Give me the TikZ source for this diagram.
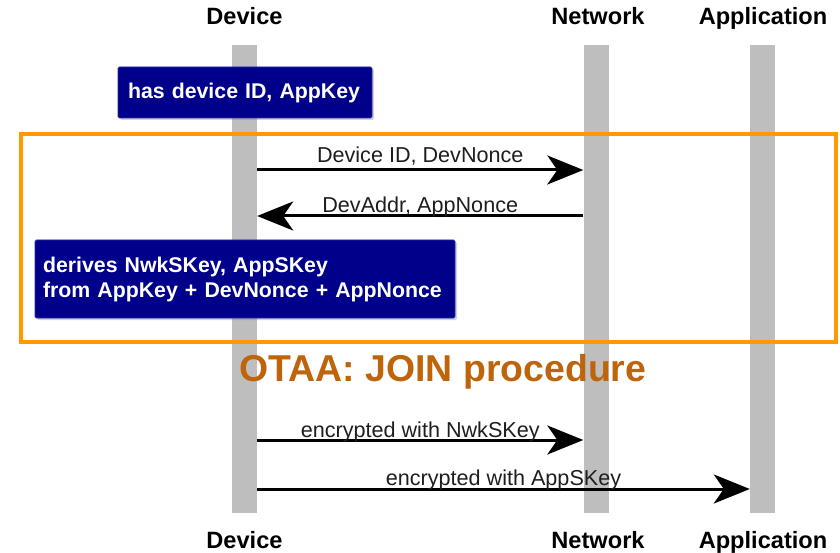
\documentclass[tikz,border=0pt]{standalone}
\usepackage{fontspec}
\setmainfont{Liberation Sans}
\usetikzlibrary{arrows.meta,shadows}
\definecolor{lifegray}{RGB}{190,190,190}
\definecolor{boxblue}{RGB}{0,0,138}
\definecolor{otaaorange}{RGB}{255,153,0}
\definecolor{otaatext}{RGB}{190,100,10}
\definecolor{msgtext}{RGB}{30,30,30}
\tikzset{
  lifebar/.style={fill=lifegray, draw=none, minimum width=25pt, inner sep=0pt},
  header/.style={font=\fontsize{23.6}{27}\selectfont\bfseries, text=black, inner sep=0pt, anchor=base},
  notebox/.style={fill=boxblue, draw={rgb,255:red,40;green,40;blue,170}, line width=0.8pt, text=white,
    font=\fontsize{21.3}{25}\selectfont\bfseries, align=left, inner sep=0pt, rounded corners=1.5pt,
    drop shadow={shadow xshift=2pt, shadow yshift=-2pt, opacity=0.35}},
  msg/.style={line width=3pt, draw=black, -{Stealth[length=36pt,width=29pt,inset=10pt]}},
  msglabel/.style={font=\fontsize{21.6}{24}\selectfont, text=msgtext, inner sep=0pt},
}
\begin{document}
\begin{tikzpicture}[x=1pt,y=-1pt]
\useasboundingbox (0,0) rectangle (840,553);
% lifelines
\node[lifebar, minimum height=468pt] (dev) at (244.5,279) {};
\node[lifebar, minimum height=468pt] (net) at (596,279) {};
\node[lifebar, minimum height=468pt] (app) at (762.5,279) {};
% headers
\node[header] (hdev) at (244.5,25) {Device};
\node[header] (hnet) at (598,25) {Network};
\node[header] (happ) at (763,25) {Application};
\node[header] (fdev) at (244.5,548) {Device};
\node[header] (fnet) at (598,548) {Network};
\node[header] (fapp) at (763,548) {Application};
% notes
\node[notebox, minimum width=254pt, minimum height=51pt, text width=234pt] (n1) at (245,92.5) {has device ID, AppKey};
% orange frame
\node[draw=otaaorange, line width=4pt, minimum width=815pt, minimum height=207pt, inner sep=0pt] (frame) at (428,238) {};
\node[notebox, minimum width=420pt, minimum height=78pt, text width=404pt] (n2) at (245,279) {derives NwkSKey, AppSKey\\from AppKey + DevNonce + AppNonce};
\node[font=\fontsize{37.4}{40}\selectfont\bfseries, text=otaatext, inner sep=0pt] (title) at (443,372) {OTAA: JOIN procedure};
% message anchors
\coordinate (d1) at (dev.east |- 0,170);
\coordinate (n1e) at (net.west |- 0,170);
\coordinate (d2) at (dev.east |- 0,216);
\coordinate (n2e) at (net.west |- 0,216);
\coordinate (d3) at (dev.east |- 0,440);
\coordinate (n3e) at (net.west |- 0,440);
\coordinate (d4) at (dev.east |- 0,489);
\coordinate (a4) at (app.west |- 0,489);
% messages
\draw[msg] (d1) -- (n1e) node[msglabel, midway, above=3pt] (l1) {Device ID, DevNonce};
\draw[msg] (n2e) -- (d2) node[msglabel, midway, above=-2pt] (l2) {DevAddr, AppNonce};
\draw[msg] (d3) -- (n3e) node[msglabel, midway, above=-3pt] (l3) {encrypted with NwkSKey};
\draw[msg] (d4) -- (a4) node[msglabel, midway, above=-2pt] (l4) {encrypted with AppSKey};
\end{tikzpicture}
\end{document}
